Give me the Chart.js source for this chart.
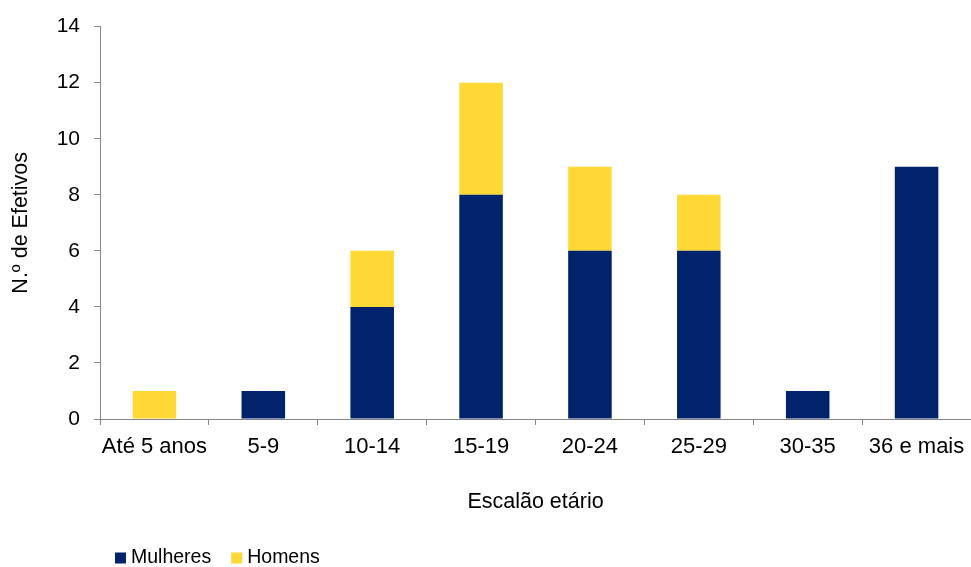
<!DOCTYPE html>
<html>
<head>
<meta charset="utf-8">
<script src="https://cdn.jsdelivr.net/npm/chart.js@4.4.1/dist/chart.umd.min.js"></script>
<style>
    html, body { margin: 0; padding: 0; background: #fff; overflow: hidden; }
    #wrap { width: 971px; height: 567px; }
</style>
</head>
<body>
<div id="wrap"><canvas id="chart" width="971" height="567"></canvas></div>
<script>
const categories = ['Até 5 anos', '5-9', '10-14', '15-19', '20-24', '25-29', '30-35', '36 e mais'];
const mulheres = [0, 1, 4, 8, 6, 6, 1, 9];
const homens = [1, 0, 2, 4, 3, 2, 0, 0];
const yTicks = [0, 2, 4, 6, 8, 10, 12, 14];

const FONT = '"Liberation Sans", Arial, sans-serif';
const AXIS_GRAY = '#868686';

// legenda desenhada à mão para ficar alinhada à esquerda como no original
const legendPlugin = {
    id: 'manualLegend',
    afterDraw(chart) {
        const ctx = chart.ctx;
        ctx.save();
        ctx.font = '19.5px ' + FONT;
        ctx.textBaseline = 'middle';
        let x = 115;
        const y = 558, box = 11;
        chart.data.datasets.forEach(ds => {
            ctx.fillStyle = ds.backgroundColor;
            ctx.fillRect(x, y - box / 2, box, box);
            ctx.fillStyle = '#000';
            ctx.textAlign = 'left';
            ctx.fillText(ds.label, x + box + 5, y);
            x += box + 5 + ctx.measureText(ds.label).width + 20;
        });
        ctx.restore();
    }
};

new Chart(document.getElementById('chart'), {
    type: 'bar',
    data: {
        labels: categories,
        datasets: [
            { label: 'Mulheres', data: mulheres, backgroundColor: '#00236B', borderWidth: 0 },
            { label: 'Homens', data: homens, backgroundColor: '#FFD836', borderWidth: 0 }
        ]
    },
    options: {
        responsive: false,
        animation: false,
        layout: { padding: { top: 24, bottom: 47, left: 0, right: 0 } },
        datasets: { bar: { categoryPercentage: 1, barPercentage: 0.4 } },
        plugins: {
            legend: { display: false },
            tooltip: { enabled: false }
        },
        scales: {
            x: {
                stacked: true,
                afterFit(scale) {
                    scale.height = 101;
                    scale.paddingLeft = 0;
                    scale.paddingRight = 0;
                },
                grid: { drawOnChartArea: false, drawTicks: true, tickLength: 6, color: AXIS_GRAY, offset: true },
                border: { color: AXIS_GRAY, width: 1 },
                ticks: { color: '#000', font: { family: FONT, size: 22 }, padding: 9, maxRotation: 0, autoSkip: false },
                title: { display: true, text: 'Escalão etário', color: '#000', font: { family: FONT, size: 21.5 }, padding: { top: 0, bottom: 5 } }
            },
            y: {
                stacked: true,
                min: 0,
                max: 14,
                afterFit(scale) { scale.width = 100; },
                afterBuildTicks(scale) { scale.ticks = yTicks.map(v => ({ value: v })); },
                grid: { drawOnChartArea: false, drawTicks: true, tickLength: 6, color: AXIS_GRAY },
                border: { color: AXIS_GRAY, width: 1 },
                ticks: { color: '#000', font: { family: FONT, size: 21 }, padding: 14 },
                title: { display: true, text: 'N.º de Efetivos', color: '#000', font: { family: FONT, size: 21.5 }, padding: { top: 8, bottom: 0 } }
            }
        }
    },
    plugins: [legendPlugin]
});
</script>
</body>
</html>
